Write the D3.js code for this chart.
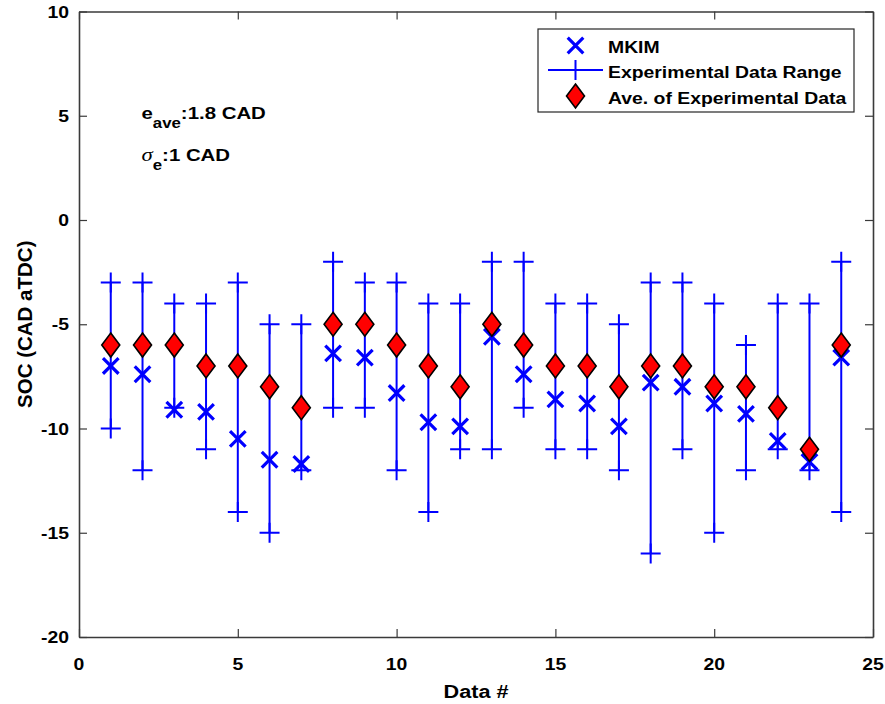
<!DOCTYPE html>
<html><head><meta charset="utf-8">
<script src="https://cdn.jsdelivr.net/npm/d3@7"></script>
<style>
html,body{margin:0;padding:0;background:#fff;}
text{font-family:"Liberation Sans",Arial,sans-serif;font-weight:bold;fill:#000;}
</style></head>
<body><svg id="c" width="885" height="704"></svg>
<script>
const dataIndex = [1,2,3,4,5,6,7,8,9,10,11,12,13,14,15,16,17,18,19,20,21,22,23,24];
const rangeTop = [-3,-3,-4,-4,-3,-5,-5,-2,-3,-3,-4,-4,-2,-2,-4,-4,-5,-3,-3,-4,-6,-4,-4,-2];
const rangeBottom = [-10,-12,-9,-11,-14,-15,-12,-9,-9,-12,-14,-11,-11,-9,-11,-11,-12,-16,-11,-15,-12,-11,-12,-14];
const expAverage = [-6,-6,-6,-7,-7,-8,-9,-5,-5,-6,-7,-8,-5,-6,-7,-7,-8,-7,-7,-8,-8,-9,-11,-6];
const mkim = [-7,-7.4,-9.1,-9.2,-10.5,-11.5,-11.7,-6.4,-6.6,-8.3,-9.7,-9.9,-5.6,-7.4,-8.6,-8.8,-9.9,-7.8,-8,-8.8,-9.3,-10.6,-11.6,-6.6];
const xTicks = [0,5,10,15,20,25];
const yTicks = [-20,-15,-10,-5,0,5,10];
const legendLabels = ["MKIM","Experimental Data Range","Ave. of Experimental Data"];

const svg = d3.select("#c");
const L=79, R=873, T=11.5, B=637;
const x = d3.scaleLinear().domain([0,25]).range([L,R]);
const y = d3.scaleLinear().domain([-20,10]).range([B,T]);
const axCol = "#3a3a3a";
const blue = "#0000ff";
const SX = 1.14, SXA = 1.2;

// axes (ticks inward on all four sides)
const gx = svg.append("g").attr("transform",`translate(0,${B})`)
  .call(d3.axisBottom(x).tickValues(xTicks).tickSizeInner(-8).tickSizeOuter(0).tickFormat(""));
const gxt = svg.append("g").attr("transform",`translate(0,${T})`)
  .call(d3.axisTop(x).tickValues(xTicks).tickSizeInner(-8).tickSizeOuter(0).tickFormat(""));
const gy = svg.append("g").attr("transform",`translate(${L},0)`)
  .call(d3.axisLeft(y).tickValues(yTicks).tickSizeInner(-8).tickSizeOuter(0).tickFormat(""));
const gyr = svg.append("g").attr("transform",`translate(${R},0)`)
  .call(d3.axisRight(y).tickValues(yTicks).tickSizeInner(-8).tickSizeOuter(0).tickFormat(""));
[gx,gxt,gy,gyr].forEach(g=>{
  g.select(".domain").attr("stroke",axCol).attr("stroke-width",1.6);
  g.selectAll(".tick line").attr("stroke",axCol).attr("stroke-width",1.2);
});

// tick labels
svg.append("g").selectAll("text").data(xTicks).join("text")
  .attr("transform",d=>`translate(${x(d)},670) scale(${SX},1)`)
  .attr("text-anchor","middle").attr("font-size",17).text(d=>String(d));
svg.append("g").selectAll("text").data(yTicks).join("text")
  .attr("transform",d=>`translate(69,${y(d)+6}) scale(${SX},1)`)
  .attr("text-anchor","end").attr("font-size",17).text(d=>String(d));

// axis labels
svg.append("text").attr("transform",`translate(${(L+R)/2},698) scale(${SX},1)`).attr("text-anchor","middle")
  .attr("font-size",19).text("Data #");
svg.append("text").attr("transform",`translate(32,${(T+B)/2}) rotate(-90)`).attr("text-anchor","middle")
  .attr("font-size",20.5).text("SOC (CAD aTDC)");

// annotations
const a1 = svg.append("text").attr("transform",`translate(141.5,119) scale(${SXA},1)`).attr("font-size",17);
a1.append("tspan").text("e");
a1.append("tspan").attr("font-size",14).attr("dy",9).text("ave");
a1.append("tspan").attr("dy",-9).text(":1.8 CAD");
const a2 = svg.append("text").attr("transform",`translate(141.5,160.5) scale(${SXA},1)`).attr("font-size",17);
a2.append("tspan").attr("font-family","Liberation Serif, serif").attr("font-style","italic").attr("font-weight","normal").attr("font-size",19).text("σ");
a2.append("tspan").attr("font-size",14).attr("dy",9.5).text("e");
a2.append("tspan").attr("dy",-9.5).text(":1 CAD");

const idx = d3.range(dataIndex.length);
const xPath = s => `M${-s},${-s}L${s},${s}M${-s},${s}L${s},${-s}`;
const plusPath = s => `M${-s},0L${s},0M0,${-s}L0,${s}`;
const diamondPath = (w,h) => `M0,${-h}L${w},0L0,${h}L${-w},0Z`;

// MKIM X markers
svg.append("g").selectAll("path").data(idx).join("path")
  .attr("d",xPath(7.8)).attr("transform",i=>`translate(${x(dataIndex[i])},${y(mkim[i])})`)
  .attr("stroke",blue).attr("stroke-width",3.2).attr("fill","none");

// range lines with + ends
const rg = svg.append("g");
rg.selectAll("line").data(idx).join("line")
  .attr("x1",i=>x(dataIndex[i])).attr("x2",i=>x(dataIndex[i]))
  .attr("y1",i=>y(rangeTop[i])).attr("y2",i=>y(rangeBottom[i]))
  .attr("stroke",blue).attr("stroke-width",2);
rg.selectAll("path.t").data(idx).join("path").attr("class","t")
  .attr("d",plusPath(10)).attr("transform",i=>`translate(${x(dataIndex[i])},${y(rangeTop[i])})`)
  .attr("stroke",blue).attr("stroke-width",2).attr("fill","none");
rg.selectAll("path.b").data(idx).join("path").attr("class","b")
  .attr("d",plusPath(10)).attr("transform",i=>`translate(${x(dataIndex[i])},${y(rangeBottom[i])})`)
  .attr("stroke",blue).attr("stroke-width",2).attr("fill","none");

// average diamonds
svg.append("g").selectAll("path").data(idx).join("path")
  .attr("d",diamondPath(9,12)).attr("transform",i=>`translate(${x(dataIndex[i])},${y(expAverage[i])})`)
  .attr("fill","#ff0000").attr("stroke","#000").attr("stroke-width",1.6);

// legend
const lg = svg.append("g");
lg.append("rect").attr("x",538).attr("y",29).attr("width",316).attr("height",83)
  .attr("fill","#fff").attr("stroke","#262626").attr("stroke-width",1.2);
const mx = 575.5, rows=[45.5,70,96], baselines=[52.5,78,104];
lg.append("path").attr("d",xPath(7.8)).attr("transform",`translate(${mx},${rows[0]})`)
  .attr("stroke",blue).attr("stroke-width",3.2).attr("fill","none");
lg.append("line").attr("x1",548).attr("x2",603).attr("y1",rows[1]).attr("y2",rows[1])
  .attr("stroke",blue).attr("stroke-width",2);
lg.append("path").attr("d",plusPath(10)).attr("transform",`translate(${mx},${rows[1]})`)
  .attr("stroke",blue).attr("stroke-width",2).attr("fill","none");
lg.append("path").attr("d",diamondPath(9,12)).attr("transform",`translate(${mx},${rows[2]})`)
  .attr("fill","#ff0000").attr("stroke","#000").attr("stroke-width",1.6);
lg.selectAll("text").data(legendLabels).join("text")
  .attr("transform",(d,i)=>`translate(608,${baselines[i]}) scale(${SX},1)`)
  .attr("font-size",17).text(d=>d);
</script></body></html>
